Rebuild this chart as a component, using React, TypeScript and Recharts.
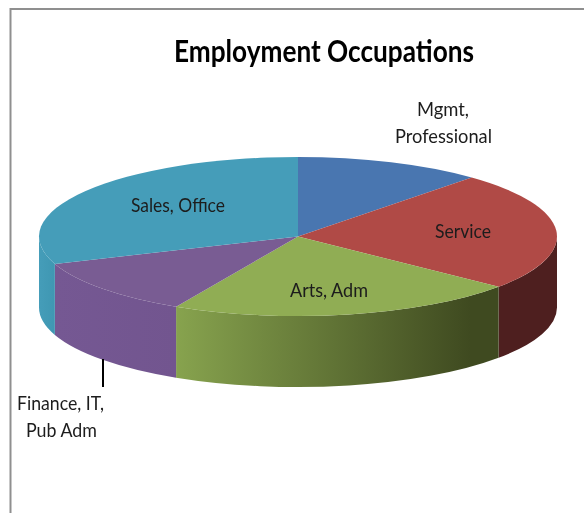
import React from 'react';
import { PieChart, Pie } from 'recharts';

const categories = ['Mgmt, Professional', 'Service', 'Arts, Adm', 'Finance, IT, Pub Adm', 'Sales, Office'];
const shares = [11.7, 24.2, 21.9, 11.6, 30.6];
const topColors = ['#4976B0', '#B04A46', '#90AD54', '#795C93', '#459DB9'];
const wallColors = ['#3A5F8E', '#4E1F1F', 'url(#wallGreen)', 'url(#wallPurple)', 'url(#wallTeal)'];

// text lines per slice: [text, x, baseline, width]
const labelLines: [string, number, number, number][][] = [
  [['Mgmt,', 417, 116, 52], ['Professional', 395, 143, 97]],
  [['Service', 435, 238, 56]],
  [['Arts, Adm', 290, 297, 78]],
  [['Finance, IT,', 17, 410, 87], ['Pub Adm', 26, 437, 71]],
  [['Sales, Office', 131, 212, 94]],
];

const FONT = 'Lato, sans-serif';
const TILT = 0.307; // ellipse height / width of the tilted disc
const DEPTH = 71;

const pieData = categories.map((name, i) => ({ name, value: shares[i], fill: topColors[i] }));

const rad = (a: number) => (a * Math.PI) / 180;

function Slice3D(props: any) {
  const { cx, cy, outerRadius, startAngle, endAngle, fill, index } = props;
  const rx = outerRadius;
  const ry = outerRadius * TILT;
  const px = (a: number) => cx + rx * Math.cos(rad(a));
  const py = (a: number) => cy - ry * Math.sin(rad(a));
  const large = Math.abs(startAngle - endAngle) > 180 ? 1 : 0;
  const top = `M${cx},${cy} L${px(startAngle)},${py(startAngle)} A${rx},${ry} 0 ${large} 1 ${px(endAngle)},${py(endAngle)} Z`;

  // only the front half of the rim is visible
  const hi = Math.min(startAngle, 0);
  const lo = Math.max(endAngle, -180);
  const wall =
    hi > lo
      ? `M${px(hi)},${py(hi)} A${rx},${ry} 0 0 1 ${px(lo)},${py(lo)} L${px(lo)},${py(lo) + DEPTH} A${rx},${ry} 0 0 0 ${px(hi)},${py(hi) + DEPTH} Z`
      : null;

  return (
    <g>
      {wall && <path d={wall} fill={wallColors[index]} />}
      <path d={top} fill={fill} />
    </g>
  );
}

function renderLabel({ index }: any) {
  return (
    <g key={index}>
      {categories[index].startsWith('Finance') && (
        <line x1={103} y1={359} x2={103} y2={387} stroke="#000" strokeWidth={2} />
      )}
      {labelLines[index].map(([t, x, y, w]) => (
        <text
          key={t}
          x={x}
          y={y}
          textLength={w}
          lengthAdjust="spacingAndGlyphs"
          fontFamily={FONT}
          fontSize={20}
          fill="#1c1c1c"
          filter="url(#soften)"
        >
          {t}
        </text>
      ))}
    </g>
  );
}

export default function App() {
  return (
    <div style={{ position: 'absolute', left: 0, top: 0, width: 584, height: 513, overflow: 'hidden', background: '#fff' }}>
      <PieChart width={584} height={513} margin={{ top: 0, right: 0, bottom: 0, left: 0 }}>
        <defs>
          <filter id="soften" x="-5%" y="-20%" width="110%" height="140%">
            <feGaussianBlur stdDeviation="0.35" />
          </filter>
          <linearGradient id="wallGreen" gradientUnits="userSpaceOnUse" x1={176} y1={0} x2={470} y2={0}>
            <stop offset="0" stopColor="#87A34E" />
            <stop offset="1" stopColor="#3F4A20" />
          </linearGradient>
          <linearGradient id="wallPurple" gradientUnits="userSpaceOnUse" x1={55} y1={0} x2={176} y2={0}>
            <stop offset="0" stopColor="#755893" />
            <stop offset="1" stopColor="#72558F" />
          </linearGradient>
          <linearGradient id="wallTeal" gradientUnits="userSpaceOnUse" x1={39} y1={0} x2={55} y2={0}>
            <stop offset="0" stopColor="#459DB9" />
            <stop offset="1" stopColor="#3F97B2" />
          </linearGradient>
        </defs>
        <path d="M584,9 H10.5 V513" fill="none" stroke="#8f8f8f" strokeWidth={2} />
        <text
          x={174}
          y={62}
          textLength={300}
          lengthAdjust="spacingAndGlyphs"
          fontFamily={FONT}
          fontWeight={700}
          fontSize={30}
          fill="#000"
          filter="url(#soften)"
        >
          Employment Occupations
        </text>
        <Pie
          data={pieData}
          dataKey="value"
          nameKey="name"
          cx={298}
          cy={236.5}
          innerRadius={0}
          outerRadius={259}
          startAngle={90}
          endAngle={-270}
          paddingAngle={0}
          stroke="none"
          shape={Slice3D}
          label={renderLabel}
          labelLine={false}
          isAnimationActive={false}
        />
      </PieChart>
    </div>
  );
}
